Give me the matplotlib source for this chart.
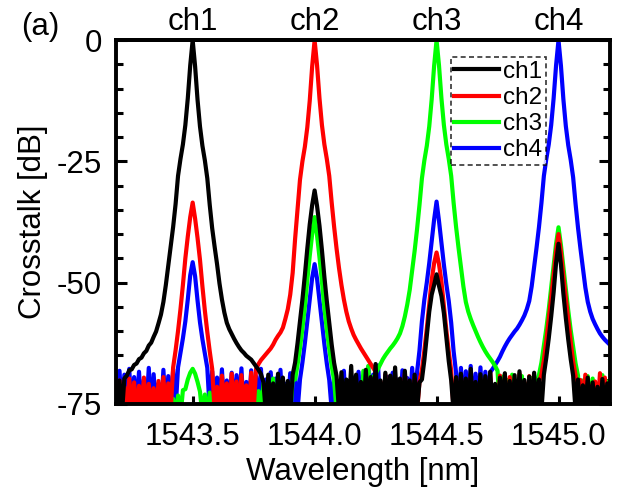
import numpy as np
import matplotlib
matplotlib.use('Agg')
import matplotlib.pyplot as plt
from matplotlib.ticker import MultipleLocator

plt.rcParams['font.family'] = ['Liberation Sans', 'DejaVu Sans']
plt.rcParams['axes.unicode_minus'] = False

# OSA sweep, 0.01 nm steps from 1543.18 to 1545.22 nm
wl = np.linspace(1543.18, 1545.22, 205)

channels = ['ch1', 'ch2', 'ch3', 'ch4']
peak_wl = [1543.5, 1544.0, 1544.5, 1545.0]
colors = ['black', '#ff0000', '#00ff00', '#0000ff']

# transmission of each drop port [dB]
ch1 = [-71.0, -76.5, -70.2, -77.0, -69.8,
       -69.2, -68.1, -67.9, -67.0, -66.7, -65.8, -65.5, -64.6,
       -64.1, -63.0, -62.4, -61.2, -60.1, -58.4, -56.6, -54.0,
       -50.5, -46.5, -42.5, -38.5, -33.8, -28.0, -24.5, -21.5, -17.5, -12.0, -5.2,
       0.0,
       -5.4, -12.3, -17.8, -21.8, -24.8, -28.5, -34.0, -38.8, -42.6, -46.2, -50.2,
       -53.5, -56.2, -58.3, -59.6, -60.6, -61.6, -62.5, -63.3,
       -64.0, -64.5, -65.1, -65.5, -65.9, -66.6, -67.3, -68.0, -68.9,
       -70.5, -77.0, -69.0, -76.5, -70.8, -78.0, -68.8, -76.2, -69.6, -77.5, -70.3, -76.8,
       -69.0, -66.5, -62.5, -58.0, -53.5, -48.5, -43.0, -38.0, -34.0, -31.0,
       -34.2, -38.3, -43.3, -48.8, -53.8, -58.3, -62.8, -66.6, -69.3,
       -76.5, -68.5, -77.5, -70.0, -76.0, -67.2, -78.0, -69.0, -76.8, -70.5,
       -77.2, -68.0, -76.3, -69.5, -78.2, -66.8, -76.6, -70.2, -77.8, -68.6,
       -76.1, -69.2, -77.4, -67.5, -76.9, -69.8, -78.1, -68.2, -76.4, -70.2,
       -77.6, -69.0, -76.2, -70.6,
       -70.0, -66.0, -61.0, -56.0, -52.5, -50.5, -48.3, -50.7, -52.8, -56.3, -61.2, -66.2, -70.2,
       -76.8, -69.5, -77.5, -68.8, -76.2, -69.8, -78.0, -67.8, -76.6, -70.5,
       -77.3, -68.9, -76.0, -69.3, -77.9, -68.4, -76.5, -70.9, -77.1, -69.6,
       -76.3, -68.7, -78.1, -70.3, -76.7, -69.1, -77.6, -68.3, -76.1, -70.1,
       -77.4, -69.4, -76.9, -68.6, -77.8, -70.0, -76.4,
       -69.0, -65.5, -61.5, -57.0, -52.0, -46.0, -42.0, -46.3, -52.3, -57.3, -61.8, -65.8, -69.2,
       -76.5, -70.0, -77.2, -71.2, -76.0, -69.6, -77.8, -70.6, -76.3, -71.5,
       -77.0, -69.9, -76.8, -70.8, -77.5, -71.0]

ch2 = [-71.0, -77.0, -70.2, -76.2, -71.5, -77.8, -69.8, -76.5, -70.6, -78.0,
       -71.3, -76.4, -69.6, -77.2, -70.9, -76.0, -71.8, -77.6, -70.3, -76.8,
       -69.5, -77.4, -70.8, -76.3,
       -67.5, -64.0, -60.0, -55.5, -50.5, -45.0, -40.5, -36.5, -33.5,
       -36.8, -40.8, -45.3, -50.8, -55.8, -60.2, -64.2, -67.8,
       -76.5, -71.5, -77.6, -69.2, -76.2, -70.8, -78.0, -68.8, -76.7, -70.4,
       -77.3, -69.1, -76.1, -71.2, -77.9, -68.6, -76.4,
       -67.8, -66.8, -66.0, -65.4, -64.8, -64.2, -63.6, -62.8, -61.8, -61.0,
       -60.3, -59.3, -57.5, -55.5, -52.5, -48.0, -41.0, -35.0, -28.8, -25.0,
       -22.0, -18.0, -12.5, -5.4, 0.0,
       -5.2, -12.0, -17.5, -21.5, -24.5, -28.0, -33.5, -38.5, -43.0, -47.0,
       -50.5, -53.5, -56.0, -58.0, -59.5, -60.8, -61.8, -62.7, -63.6, -64.4,
       -65.2, -66.0, -66.8, -67.6, -68.4,
       -76.0, -70.5, -77.4, -69.0, -76.3, -71.6, -77.9, -69.6, -76.6, -70.2,
       -77.2, -68.7, -76.1, -70.9, -77.7, -69.3, -76.8, -70.4,
       -68.0, -64.0, -59.5, -54.5, -49.5, -46.0, -43.8, -46.2, -49.8, -54.8, -59.8, -64.2, -68.2,
       -76.3, -71.8, -77.1, -69.4, -76.0, -70.3, -77.8, -68.9, -76.5, -71.2,
       -77.4, -69.8, -76.2, -70.7, -78.0, -68.6, -76.7, -71.5, -77.0, -69.2,
       -76.4, -70.0, -77.6, -69.5, -76.1, -71.9, -77.3, -68.8, -76.9, -70.6,
       -77.5, -69.3, -76.2, -71.0, -77.8, -70.5,
       -69.0, -66.0, -62.0, -57.5, -53.0, -48.5, -43.5, -40.0,
       -43.7, -48.7, -53.3, -57.7, -62.2, -66.3, -69.2,
       -76.4, -70.1, -77.3, -69.0, -76.0, -71.3, -77.7, -70.4, -76.6, -68.7,
       -77.1, -69.6, -76.2, -72.3, -77.0]

ch3 = [-74.5, -78.5, -73.2, -77.6, -74.0, -78.8, -72.8, -77.4, -73.9, -78.2,
       -74.2, -77.9, -72.6, -78.6, -73.5, -77.3, -74.8, -78.1, -73.0, -77.8,
       -72.9, -78.4, -73.7, -77.5, -74.0, -78.0, -73.3, -77.7, -72.2,
       -72.0, -70.0, -68.6, -67.8, -68.8, -70.5, -72.5,
       -77.5, -73.1, -78.2, -72.7, -77.6, -74.6, -78.0, -73.4, -77.1, -72.9,
       -78.6, -74.9, -77.3, -73.7, -78.4, -72.5, -77.0, -74.3, -78.1, -73.0,
       -77.4, -71.8, -78.3, -72.4, -77.2, -70.8, -78.0, -71.5, -77.6, -69.8,
       -76.5, -71.2, -77.9, -70.5, -76.8, -71.6, -77.0, -70.0,
       -70.0, -67.0, -63.5, -59.5, -55.0, -49.5, -44.5, -40.0, -36.5,
       -40.3, -44.8, -49.8, -55.2, -59.7, -63.7, -67.2, -70.2,
       -76.5, -71.2, -77.8, -72.4, -76.9, -70.6, -78.0, -73.0, -77.3, -71.9,
       -76.2, -68.2, -77.0, -67.2, -76.4, -69.6,
       -68.8, -67.8, -66.8, -65.8, -65.0, -64.3, -63.6, -63.0, -62.3, -61.5,
       -60.5, -59.0, -57.0, -54.5, -51.5, -47.5, -43.5, -39.0, -34.0, -28.5,
       -24.8, -21.8, -17.8, -12.2, -5.3, 0.0,
       -5.2, -12.0, -17.5, -21.5, -24.5, -28.0, -33.6, -38.5, -42.8, -46.8,
       -50.8, -54.0, -56.0, -57.5, -58.8, -60.0, -61.2, -62.3, -63.3, -64.2,
       -65.0, -65.7, -66.4, -67.2, -68.2,
       -76.4, -69.4, -77.5, -70.1, -76.2, -69.0, -77.8, -70.4, -76.6, -69.3,
       -77.1, -71.0, -76.3, -69.7, -77.6, -70.6,
       -69.0, -66.5, -63.0, -59.5, -55.5, -51.0, -46.5, -42.0, -38.6,
       -42.3, -46.8, -51.3, -55.8, -59.8, -63.3, -66.7, -69.2,
       -76.2, -70.2, -77.3, -69.3, -76.0, -69.8, -77.6, -70.9, -76.5, -69.1,
       -77.0, -70.4, -76.8, -69.6]

ch4 = [-70.5, -76.5, -68.2, -77.0, -69.0, -76.2, -67.8, -77.5, -69.5, -76.0,
       -68.4, -77.2, -70.0, -76.6, -67.6, -77.8, -68.9, -76.3, -70.8, -77.1,
       -68.0, -76.7, -69.3, -77.4, -67.9, -76.2,
       -67.5, -64.5, -61.5, -58.0, -53.5, -48.5, -45.8,
       -48.7, -53.7, -58.2, -61.7, -64.7, -67.6,
       -76.4, -68.3, -77.2, -69.6, -76.0, -67.9, -77.6, -70.2, -76.5, -68.6,
       -77.0, -69.1, -76.3, -67.7, -77.8, -70.5, -76.1, -68.1, -77.3, -69.4,
       -76.6, -67.8, -77.5, -70.0, -76.2, -68.5, -77.1, -69.8, -76.8, -68.0,
       -77.4, -70.9, -76.0, -68.7, -77.7, -69.2, -76.5,
       -70.0, -66.5, -62.5, -58.0, -53.5, -49.0, -46.2,
       -49.2, -53.7, -58.2, -62.7, -66.7, -70.1,
       -76.3, -69.3, -77.1, -70.7, -76.0, -68.2, -77.5, -71.0, -76.6, -69.6,
       -77.2, -68.4, -76.1, -70.3, -77.8, -67.4, -76.4, -69.0, -77.0, -67.1,
       -76.7, -70.9, -77.4, -69.5, -76.2, -68.6, -77.6, -70.0, -76.5, -68.1,
       -77.3, -69.7, -76.0, -67.6, -76.8,
       -68.5, -64.0, -58.0, -53.5, -50.0, -46.0, -41.5, -37.0, -33.3,
       -37.3, -41.8, -46.3, -50.3, -53.8, -58.3, -64.2, -68.6,
       -76.2, -67.6, -77.0, -68.3, -76.5, -67.2, -77.4, -68.8, -76.1, -67.5,
       -77.2, -68.4, -76.0,
       -68.5, -67.8, -67.0, -66.2, -65.3, -64.2, -63.2, -62.3, -61.5, -60.8,
       -60.1, -59.5, -58.7, -57.8, -56.8, -55.5, -53.8, -50.8, -46.8, -42.8,
       -38.5, -33.6, -28.0, -24.5, -21.5, -17.5, -12.0, -5.2, 0.0,
       -5.3, -12.2, -17.7, -21.7, -24.7, -28.3, -33.8, -38.7, -43.0, -47.0,
       -51.0, -54.0, -56.0, -57.5, -58.6, -59.6, -60.5, -61.2, -61.8, -62.3,
       -62.8, -63.3]

series = [ch1, ch2, ch3, ch4]

fig = plt.figure(figsize=(6.33, 4.96), dpi=100)
ax = fig.add_axes([0.183, 0.186, 0.781, 0.733])

lines = {}
# ch4 first so ch1 ends up on top, like the measurement plot
for name, y, c in reversed(list(zip(channels, series, colors))):
    lines[name], = ax.plot(wl, y, color=c, lw=3.0, label=name)

ax.set_xlim(1543.185, 1545.212)
ax.set_ylim(-75, 0)
ax.set_xticks(peak_wl)
ax.set_xticklabels(['%.1f' % v for v in peak_wl])
ax.set_yticks([0, -25, -50, -75])
ax.yaxis.set_minor_locator(MultipleLocator(5))
ax.tick_params(axis='x', which='major', direction='in', length=6, width=2.2,
               labelsize=22.5, pad=13, top=False)
ax.tick_params(axis='y', which='major', direction='in', length=8, width=2.2,
               labelsize=22.5, pad=10, right=True)
ax.tick_params(axis='y', which='minor', direction='in', length=5, width=2.2, right=True)
for s in ax.spines.values():
    s.set_linewidth(2.8)

top = ax.secondary_xaxis('top')
top.set_xticks(peak_wl)
top.set_xticklabels(channels)
top.tick_params(length=0, labelsize=22.5, pad=2)
top.spines['top'].set_linewidth(2.8)

ax.set_xlabel('Wavelength [nm]', fontsize=22.5, labelpad=4)
ax.set_ylabel('Crosstalk [dB]', fontsize=22.5, labelpad=6)

leg = ax.legend([lines[n] for n in channels], channels, loc='upper left',
                bbox_to_anchor=(0.677, 0.953), borderaxespad=0, fontsize=17.5,
                frameon=True, fancybox=False, handlelength=1.85, handletextpad=0.15,
                labelspacing=0.17, borderpad=0.15)
leg.get_frame().set_edgecolor('black')
leg.get_frame().set_linestyle((0, (3, 2)))
leg.get_frame().set_linewidth(1.2)
for h in leg.get_lines():
    h.set_linewidth(3.0)

fig.text(0.033, 0.945, '(a)', fontsize=22.5, ha='left', va='center')

fig.savefig('out.png', dpi=100)
